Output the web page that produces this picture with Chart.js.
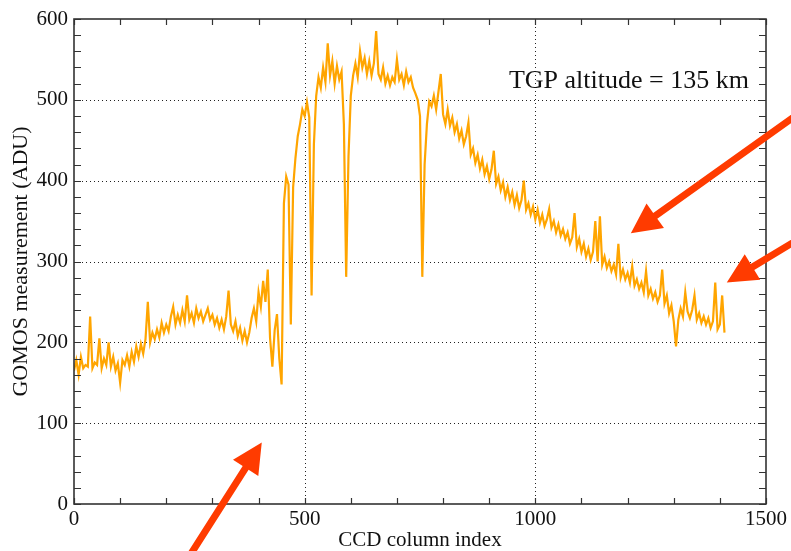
<!DOCTYPE html>
<html>
<head>
<meta charset="utf-8">
<title>GOMOS measurement</title>
<script src="https://cdn.jsdelivr.net/npm/chart.js@4.4.0/dist/chart.umd.min.js"></script>
<style>
  body { margin: 0; background: #fff; }
  #wrap { width: 791px; height: 551px; }
</style>
</head>
<body>
<div id="wrap"><canvas id="gomos" width="791" height="551"></canvas></div>
<script>
// CCD columns, sampled every 5 pixels starting at column 0
const colStart = 0;
const colStep = 5;

// measured signal (ADU), one row per 100 columns
const signal = [
  165, 178, 160, 182, 168, 172, 170, 232, 168, 175, 172, 205, 168, 180, 172, 200, 170, 182, 165, 174,
  150, 178, 172, 184, 170, 188, 176, 195, 182, 198, 186, 204, 250, 200, 212, 204, 216, 206, 224, 212,
  222, 214, 232, 244, 222, 234, 224, 240, 226, 258, 228, 236, 224, 242, 230, 238, 226, 234, 242, 228,
  234, 222, 230, 218, 228, 216, 232, 264, 222, 214, 226, 208, 218, 202, 214, 200, 212, 230, 242, 226,
  262, 244, 276, 250, 290, 205, 170, 215, 235, 180, 148, 372, 405, 395, 222, 392, 428, 455, 470, 488,
  480, 497, 478, 258, 445, 505, 528, 515, 540, 522, 570, 530, 548, 520, 542, 525, 535, 470, 281, 430,
  505, 530, 545, 528, 560, 540, 552, 532, 548, 530, 545, 585, 532, 525, 540, 520, 530, 518, 528, 522,
  550, 525, 532, 518, 535, 522, 528, 515, 508, 500, 480, 281, 420, 470, 498, 492, 505, 488, 510, 532,
  482, 470, 488, 468, 478, 460, 470, 452, 462, 445, 455, 472, 432, 440, 422, 432, 415, 426, 408, 418,
  402, 414, 437, 396, 405, 388, 398, 380, 392, 376, 386, 370, 382, 366, 376, 400, 364, 372, 358, 368,
  352, 364, 348, 358, 344, 352, 365, 342, 350, 336, 346, 332, 340, 328, 336, 322, 330, 360, 318, 328,
  312, 322, 306, 316, 302, 312, 350, 300, 356, 296, 306, 292, 300, 288, 296, 284, 322, 280, 290, 278,
  286, 274, 294, 270, 278, 266, 274, 262, 288, 258, 266, 254, 262, 250, 258, 290, 248, 258, 236, 246,
  226, 195, 228, 242, 232, 262, 238, 230, 240, 258, 228, 236, 224, 232, 222, 230, 218, 226, 274, 216,
  222, 258, 212
];

const xTickLabels = [0, 500, 1000, 1500];
const yTickLabels = [0, 100, 200, 300, 400, 500, 600];
const xMinorStep = 100;
const yMinorStep = 20;

const altitudeNote = 'TGP altitude = 135 km';
const notePos = [1463, 515];

// red arrows in data units: [tailX, tailY, tipX, tipY]
const arrows = [
  [243, -71, 407, 76],
  [1595, 493, 1207, 335],
  [1595, 336, 1415, 274]
];

const serif = 'Liberation Serif, Times New Roman, serif';

function drawArrow(ctx, tail, tip) {
  const dx = tail.x - tip.x, dy = tail.y - tip.y;
  const len = Math.hypot(dx, dy);
  const ux = dx / len, uy = dy / len;
  const nx = -uy, ny = ux;
  const headLen = 30, headHalf = 15, shaftHalf = 3.5;
  const bx = tip.x + ux * headLen, by = tip.y + uy * headLen;
  ctx.beginPath();
  ctx.moveTo(tip.x, tip.y);
  ctx.lineTo(bx + nx * headHalf, by + ny * headHalf);
  ctx.lineTo(bx + nx * shaftHalf, by + ny * shaftHalf);
  ctx.lineTo(tail.x + nx * shaftHalf, tail.y + ny * shaftHalf);
  ctx.lineTo(tail.x - nx * shaftHalf, tail.y - ny * shaftHalf);
  ctx.lineTo(bx - nx * shaftHalf, by - ny * shaftHalf);
  ctx.lineTo(bx - nx * headHalf, by - ny * headHalf);
  ctx.closePath();
  ctx.fill();
}

// dotted grid, framed box with inward ticks, note and arrows
const decor = {
  id: 'decor',
  beforeDatasetsDraw(chart) {
    const {ctx, chartArea: a, scales: {x, y}} = chart;
    ctx.save();
    ctx.strokeStyle = '#222';
    ctx.lineWidth = 1;
    ctx.setLineDash([1, 3]);
    xTickLabels.slice(1, -1).forEach(v => {
      const px = Math.round(x.getPixelForValue(v)) + 0.5;
      ctx.beginPath(); ctx.moveTo(px, a.top); ctx.lineTo(px, a.bottom); ctx.stroke();
    });
    yTickLabels.slice(1, -1).forEach(v => {
      const py = Math.round(y.getPixelForValue(v)) + 0.5;
      ctx.beginPath(); ctx.moveTo(a.left, py); ctx.lineTo(a.right, py); ctx.stroke();
    });
    ctx.restore();
  },
  afterDatasetsDraw(chart) {
    const {ctx, chartArea: a, scales: {x, y}} = chart;
    ctx.save();
    ctx.strokeStyle = '#333';
    ctx.lineWidth = 1.2;
    ctx.beginPath();
    for (let v = x.min; v <= x.max; v += xMinorStep) {
      const px = Math.round(x.getPixelForValue(v)) + 0.5;
      ctx.moveTo(px, a.bottom); ctx.lineTo(px, a.bottom - 6);
      ctx.moveTo(px, a.top); ctx.lineTo(px, a.top + 6);
    }
    for (let v = y.min; v <= y.max; v += yMinorStep) {
      const py = Math.round(y.getPixelForValue(v)) + 0.5;
      ctx.moveTo(a.left, py); ctx.lineTo(a.left + 7, py);
      ctx.moveTo(a.right, py); ctx.lineTo(a.right - 7, py);
    }
    ctx.stroke();
    ctx.lineWidth = 1.6;
    ctx.strokeRect(a.left, a.top, a.right - a.left, a.bottom - a.top);
    ctx.restore();
  },
  afterDraw(chart) {
    const {ctx, scales: {x, y}} = chart;
    ctx.save();
    ctx.font = '26px ' + serif;
    ctx.fillStyle = '#111';
    ctx.textAlign = 'right';
    ctx.textBaseline = 'alphabetic';
    ctx.fillText(altitudeNote, x.getPixelForValue(notePos[0]), y.getPixelForValue(notePos[1]));
    ctx.fillStyle = '#ff3b00';
    arrows.forEach(([tx, ty, hx, hy]) => {
      drawArrow(ctx,
        {x: x.getPixelForValue(tx), y: y.getPixelForValue(ty)},
        {x: x.getPixelForValue(hx), y: y.getPixelForValue(hy)});
    });
    ctx.restore();
  }
};

const ctx = document.getElementById('gomos').getContext('2d');
new Chart(ctx, {
  type: 'line',
  data: {
    datasets: [{
      label: 'GOMOS measurement',
      data: signal.map((v, i) => ({x: colStart + i * colStep, y: v})),
      borderColor: '#ffa500',
      borderWidth: 2.2,
      pointRadius: 0,
      tension: 0,
      fill: false
    }]
  },
  options: {
    responsive: false,
    animation: false,
    devicePixelRatio: 1,
    layout: { padding: { top: 19, right: 25, left: 0, bottom: 0 } },
    plugins: { legend: { display: false }, tooltip: { enabled: false } },
    scales: {
      x: {
        type: 'linear',
        min: 0,
        max: 1500,
        afterBuildTicks: s => { s.ticks = xTickLabels.map(v => ({value: v})); },
        afterFit: s => { s.height = 47; },
        grid: { display: false, drawTicks: false },
        border: { display: false },
        ticks: {
          autoSkip: false, maxRotation: 0, padding: 3, color: '#111',
          font: { family: serif, size: 21 },
          callback: v => String(v)
        },
        title: {
          display: true, text: 'CCD column index', color: '#111',
          font: { family: serif, size: 21, lineHeight: 1 },
          padding: { top: 0, bottom: 0 }
        }
      },
      y: {
        min: 0,
        max: 600,
        afterBuildTicks: s => { s.ticks = yTickLabels.map(v => ({value: v})); },
        afterFit: s => { s.width = 74; },
        grid: { display: false, drawTicks: false },
        border: { display: false },
        ticks: {
          autoSkip: false, padding: 6, color: '#111',
          font: { family: serif, size: 21 },
          callback: v => String(v)
        },
        title: {
          display: true, text: 'GOMOS measurement (ADU)', color: '#111',
          font: { family: serif, size: 22, lineHeight: 1.2 },
          padding: { top: 8, bottom: 0 }
        }
      }
    }
  },
  plugins: [decor]
});
</script>
</body>
</html>
